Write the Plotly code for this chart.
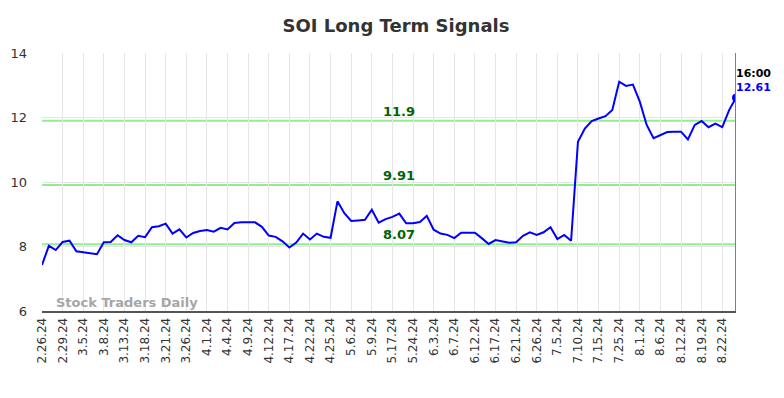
import plotly.graph_objects as go

dates = [
    "2.26.24", "2.27.24", "2.28.24", "2.29.24", "3.1.24", "3.4.24", "3.5.24", "3.6.24", "3.7.24", "3.8.24",
    "3.11.24", "3.12.24", "3.13.24", "3.14.24", "3.15.24", "3.18.24", "3.19.24", "3.20.24", "3.21.24", "3.22.24",
    "3.25.24", "3.26.24", "3.27.24", "3.28.24", "4.1.24", "4.2.24", "4.3.24", "4.4.24", "4.5.24", "4.8.24",
    "4.9.24", "4.10.24", "4.11.24", "4.12.24", "4.15.24", "4.16.24", "4.17.24", "4.18.24", "4.19.24", "4.22.24",
    "4.23.24", "4.24.24", "4.25.24", "4.26.24", "5.1.24", "5.6.24", "5.7.24", "5.8.24", "5.9.24", "5.10.24",
    "5.14.24", "5.17.24", "5.20.24", "5.22.24", "5.24.24", "5.28.24", "5.30.24", "6.3.24", "6.4.24", "6.5.24",
    "6.7.24", "6.10.24", "6.11.24", "6.12.24", "6.13.24", "6.14.24", "6.17.24", "6.18.24", "6.20.24", "6.21.24",
    "6.24.24", "6.25.24", "6.26.24", "6.28.24", "7.2.24", "7.5.24", "7.8.24", "7.9.24", "7.10.24", "7.11.24",
    "7.12.24", "7.15.24", "7.18.24", "7.22.24", "7.25.24", "7.29.24", "7.30.24", "8.1.24", "8.2.24", "8.5.24",
    "8.6.24", "8.8.24", "8.9.24", "8.12.24", "8.14.24", "8.16.24", "8.19.24", "8.20.24", "8.21.24", "8.22.24",
    "8.23.24", "8.26.24",
]

values = [
    7.43, 8.02, 7.89, 8.14, 8.18, 7.85, 7.82, 7.80, 7.76, 8.13,
    8.14, 8.35, 8.20, 8.13, 8.33, 8.29, 8.60, 8.63, 8.71, 8.40,
    8.53, 8.28, 8.42, 8.48, 8.51, 8.46, 8.58, 8.53, 8.73, 8.75,
    8.74, 8.75, 8.61, 8.34, 8.30, 8.16, 7.97, 8.12, 8.40, 8.22,
    8.40, 8.30, 8.27, 9.40, 9.03, 8.79, 8.81, 8.83, 9.14, 8.74,
    8.85, 8.92, 9.02, 8.72, 8.72, 8.76, 8.95, 8.52, 8.40, 8.36,
    8.26, 8.43, 8.43, 8.43, 8.26, 8.08, 8.20, 8.15, 8.12, 8.13,
    8.33, 8.44, 8.36, 8.44, 8.60, 8.23, 8.36, 8.18, 11.25, 11.66,
    11.89, 11.97, 12.04, 12.23, 13.11, 12.98, 13.02, 12.49, 11.77, 11.36,
    11.46, 11.55, 11.56, 11.56, 11.32, 11.77, 11.89, 11.70, 11.81, 11.70,
    12.23, 12.61,
]

signal_levels = [11.9, 9.91, 8.07]
signal_labels = ["11.9", "9.91", "8.07"]
tick_labels = dates[::3]
y_ticks = [6, 8, 10, 12, 14]

last_time = "16:00"
title = "SOI Long Term Signals"
watermark = "Stock Traders Daily"

FONT = "DejaVu Sans"

fig = go.Figure()

fig.add_trace(go.Scatter(
    x=dates, y=values, mode="lines",
    line=dict(color="#0000ff", width=2),
    hoverinfo="skip", showlegend=False,
))
fig.add_trace(go.Scatter(
    x=[dates[-1]], y=[values[-1]], mode="markers",
    marker=dict(color="#0000ff", size=8),
    hoverinfo="skip", showlegend=False,
))

for lvl in signal_levels:
    fig.add_shape(type="line", xref="paper", x0=0, x1=1, yref="y", y0=lvl, y1=lvl,
                  line=dict(color="#90ee90", width=2), layer="below")

label_idx = 52
for lvl, txt in zip(signal_levels, signal_labels):
    fig.add_annotation(x=dates[label_idx], y=lvl, text="<b>%s</b>" % txt, showarrow=False,
                       yanchor="bottom", yshift=0,
                       font=dict(family=FONT, size=13, color="#006400"))

# vertical line at last point
fig.add_shape(type="line", xref="x", x0=dates[-1], x1=dates[-1], yref="paper", y0=0, y1=1,
              line=dict(color="#808080", width=2))

fig.add_annotation(x=dates[-1], y=values[-1], text="<b>%s</b>" % last_time, showarrow=False,
                   xanchor="left", yanchor="bottom", xshift=-2, yshift=16,
                   font=dict(family=FONT, size=11, color="#000000"))
fig.add_annotation(x=dates[-1], y=values[-1], text="<b>%.2f</b>" % values[-1], showarrow=False,
                   xanchor="left", yanchor="bottom", xshift=-2, yshift=2,
                   font=dict(family=FONT, size=11, color="#0000ff"))

fig.add_annotation(xref="paper", yref="paper", x=0.017, y=-0.005, text="<b>%s</b>" % watermark,
                   showarrow=False, xanchor="left", yanchor="bottom",
                   font=dict(family=FONT, size=13, color="#a6a6a6"))

fig.update_layout(
    width=776, height=390,
    margin=dict(l=34, r=48, t=45, b=87, autoexpand=False),
    paper_bgcolor="white", plot_bgcolor="white",
    title=dict(text="<b>%s</b>" % title, x=0.5, xanchor="center", y=0.954, yanchor="middle",
               font=dict(family=FONT, size=18, color="#333333")),
    font=dict(family=FONT, color="#333333"),
    xaxis=dict(
        type="category", range=[0, len(dates) - 1], automargin=False,
        tickmode="array", tickvals=tick_labels, ticktext=tick_labels,
        tickangle=-90, tickfont=dict(family=FONT, size=12, color="#333333"),
        showgrid=True, gridcolor="#e6e6e6", gridwidth=1,
        showline=True, linecolor="#555555", linewidth=2,
        ticks="", zeroline=False,
    ),
    yaxis=dict(
        range=[6, 14], tickvals=y_ticks, automargin=False,
        tickfont=dict(family=FONT, size=13, color="#333333"),
        showgrid=True, gridcolor="#e6e6e6", gridwidth=1,
        zeroline=False, showline=False, ticks="", ticklabelstandoff=14,
    ),
)

fig.write_html("out.html")
